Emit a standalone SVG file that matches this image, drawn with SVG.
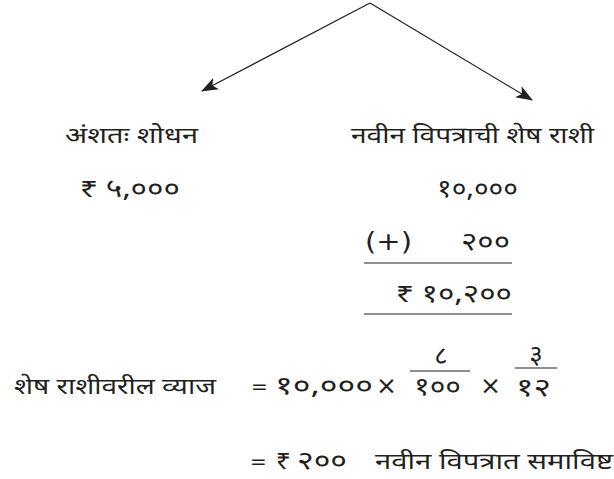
<svg xmlns="http://www.w3.org/2000/svg" width="614" height="479" viewBox="0 0 614 479">
<style>
text{font-family:"Noto Sans Devanagari","Noto Sans","DejaVu Sans",sans-serif;font-size:23px;fill:#231f20}
.n{font-size:26px}
.s{font-family:"DejaVu Sans","Noto Sans",sans-serif;font-size:25px}
.e{font-family:"DejaVu Sans","Noto Sans",sans-serif;font-size:20px}
.c{text-anchor:middle}
.ln{stroke:#231f20;stroke-width:1.2;fill:none}
</style>
<defs>
<marker id="ah" viewBox="0 0 16 12" refX="15" refY="6" markerWidth="17" markerHeight="13" orient="auto" markerUnits="userSpaceOnUse">
<path d="M0,0 L16,6 L0,12 L4,6 Z" fill="#231f20"/>
</marker>
</defs>
<rect width="614" height="479" fill="#ffffff"/>
<g id="connectors">
<line class="ln" x1="370" y1="3" x2="202" y2="91" marker-end="url(#ah)"/>
<line class="ln" x1="370" y1="3" x2="532" y2="100" marker-end="url(#ah)"/>
</g>
<g id="node-partial">
<text x="65" y="143" textLength="133" lengthAdjust="spacingAndGlyphs">अंशतः शोधन</text>
<text class="n" x="80" y="197" textLength="100" lengthAdjust="spacingAndGlyphs">₹ ५,०००</text>
</g>
<g id="node-balance">
<text x="351" y="143" textLength="243" lengthAdjust="spacingAndGlyphs">नवीन विपत्राची शेष राशी</text>
<text class="n" x="437" y="197" textLength="81" lengthAdjust="spacingAndGlyphs">१०,०००</text>
<text class="s" x="365" y="250" textLength="47" lengthAdjust="spacingAndGlyphs">(+)</text>
<text class="n" x="461" y="250" textLength="49" lengthAdjust="spacingAndGlyphs">२००</text>
<line class="ln" x1="364" y1="263" x2="512" y2="263"/>
<text class="n" x="396" y="302" textLength="116" lengthAdjust="spacingAndGlyphs">₹ १०,२००</text>
<line class="ln" x1="364" y1="314" x2="512" y2="314"/>
</g>
<g id="interest">
<text x="14" y="394" textLength="202" lengthAdjust="spacingAndGlyphs">शेष राशीवरील व्याज</text>
<text class="e" x="251" y="393">=</text>
<text class="n" x="275" y="394" textLength="98" lengthAdjust="spacingAndGlyphs">१०,०००</text>
<text class="s" x="376" y="394">×</text>
<text class="n c" x="441" y="364">८</text>
<line class="ln" x1="410" y1="371" x2="470" y2="371"/>
<text class="n" x="414" y="395" textLength="47" lengthAdjust="spacingAndGlyphs">१००</text>
<text class="s" x="480" y="394">×</text>
<text class="n c" x="536" y="363">३</text>
<line class="ln" x1="515" y1="368" x2="557" y2="368"/>
<text class="n" x="516" y="396" textLength="35" lengthAdjust="spacingAndGlyphs">१२</text>
<text class="e" x="250" y="468">=</text>
<text class="n" x="276" y="469">₹</text>
<text class="n" x="297" y="469" textLength="50" lengthAdjust="spacingAndGlyphs">२००</text>
<text x="375" y="469" textLength="238" lengthAdjust="spacingAndGlyphs">नवीन विपत्रात समाविष्ट</text>
</g>
</svg>
